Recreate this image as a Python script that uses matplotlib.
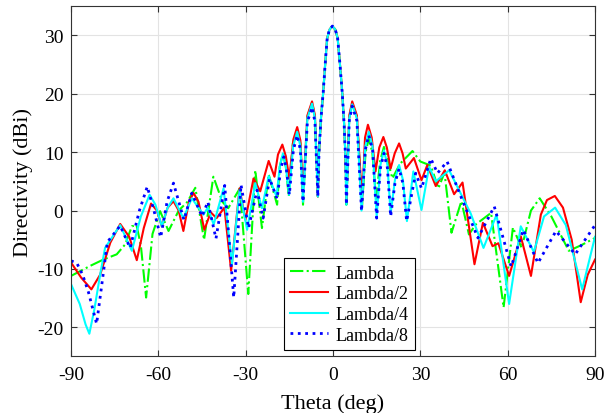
import matplotlib
matplotlib.use("Agg")
import matplotlib.pyplot as plt

plt.rcParams['font.family'] = ['Liberation Serif', 'DejaVu Serif']
plt.rcParams['axes.unicode_minus'] = False

# directivity cuts (theta in deg, value in dBi)
main_t = [-4.8, -4.1, -3.4, -2.7, -2.0, -1.2, -0.2, 0.8, 1.6, 2.4, 3.2, 3.8, 4.3]
main_d = [10, 16, 20, 25, 29.5, 31.0, 31.6, 31.0, 29.5, 25, 20, 15, 9]

lam_t = [-90, -83.5, -78.9, -74.3, -71.4, -69.1, -67.5, -66, -64.2, -62, -59.4, -56.5, -53, -50,
         -47.3, -44.3, -41.1, -38, -36, -32, -29.1, -26.7, -24.4, -22.1, -19.2, -18.3, -17.2,
         -16.2, -15.2, -13.8, -12.3, -11.2, -10.3, -8.8, -7.2, -6.2, -5.2] + main_t + [4.6, 5.6,
         6.6, 8.2, 10, 11.2, 12.3, 13.5, 14.8, 16.2, 17.5, 18.8, 20.4, 23, 27.3,
         30, 33.6, 36.2, 38.3, 40.7, 44.1, 46.7, 49, 54.3, 58.6, 61.8, 64.8, 68, 71, 75, 81, 85, 90]
lam_d = [-11.2, -9.5, -8.4, -7.5, -5.8, -2.7, -2.5, -6, -14.9, -4, -0.1, -3.5, 0, 1.5,
         3.9, -5.0, 5.8, 1.5, 0.4, 3.8, -14.3, 6.9, -3.0, 6.2, 1.0, 7.5, 9.8,
         7.5, 2.4, 11.5, 13.8, 11.5, 1.0, 16.0, 18.5, 16.0, 2.4] + main_d + [1.0, 16.0,
         18.4, 16.0, 1, 10, 12.3, 10, 2, 8.5, 10.9, 8.5, 5.5, 8, 10.2,
         8.4, 7.7, 3.8, 6.5, -3.8, 1.6, -4.1, -2.4, -0.4, -16.6, -2.9, -6.4, 0, 2.1, -1, -6.9, -6, -4.7]

lam2_t = [-90, -86.5, -83, -80, -76.5, -73.1, -70, -67.4, -65, -62.5, -60.5, -58.8, -56.8, -54.8,
          -53, -51.4, -49.5, -47.9, -46.2, -44.2, -42, -40, -37.3, -35, -32.1, -30.1, -27.3, -25,
          -22.1, -20.1, -18.9, -17.4, -16.2, -15, -13.6, -12.3, -11.2, -10.3, -8.8, -7.2, -6.2,
          -5.2] + main_t + [4.6, 5.6, 6.6, 8.2, 10, 11, 12, 13.3, 14.6, 15.9, 17.3, 18.5, 19.8,
          21.2, 22.7, 23.9, 25, 27.8, 30.4, 32.4, 35.3, 38.4, 41.6, 44.5, 48.6, 51.5, 54.8,
          56.8, 60.5, 64.5, 68, 71.4, 73.5, 76.2, 79, 82, 85.1, 87.5, 90]
lam2_d = [-8.9, -11.5, -13.5, -11, -5.5, -2.3, -4.5, -8.5, -3, 1.2, 0, -2.7, 0.5, 1.6,
          0, -3.5, 1.5, 3.0, 1.5, -3.3, -0.3, -1.3, 0.5, -10.3, 3.8, -1.6, 5.5, 3.3,
          8.5, 5.8, 9.6, 11.3, 9.3, 5.5, 12.2, 14.3, 12.0, 2.8, 16.3, 18.7, 16.3,
          2.4] + main_d + [1.6, 16.3, 18.7, 16.3, 1.6, 12.5, 14.7, 12.5, 6.7, 10.8, 12.6, 10.8, 7.2,
          9.8, 11.5, 9.8, 7.2, 9.0, 5.2, 7.8, 4.2, 6.9, 2.8, 4.8, -9.2, -2.1, -6.1,
          -5.6, -11.2, -4.4, -11.2, -0.7, 1.8, 2.5, 0.5, -5, -15.7, -11, -8.4]

lam4_t = [-90, -87, -85, -83.7, -82, -80, -78.3, -73.1, -69.1, -66, -63, -61, -58.8, -56.8,
          -54.8, -51.4, -48.5, -44.5, -43, -41, -37.6, -34.7, -32.1, -29.5, -26.7, -24.4, -22.1,
          -19.4, -18.3, -17.2, -16.2, -15.1, -13.7, -12.3, -11.2, -10.3, -8.8, -7.2, -6.2,
          -5.2] + main_t + [4.6, 5.6, 6.6, 8.2, 9.8, 11.1, 12.3, 13.6, 15, 16.3, 17.5, 18.7,
          19.8, 21.3, 22.7, 24, 25.4, 27.6, 30.4, 33, 35.3, 39.9, 43.6, 47.3, 51.7, 56.2, 60.5,
          64.5, 69, 72.5, 76.3, 80, 85.6, 90]
lam4_d = [-12.6, -16, -19.5, -21.1, -17, -11, -6.4, -2.5, -6.9, -1, 2.7, 1, -2.7, 0.5,
          2.1, -1.3, 2.1, -0.7, 0.5, -2.4, 3.8, -9.2, 3.5, -3.3, 4.7, 0.4, 5.9,
          2.4, 7.5, 9.8, 7.5, 2.7, 11, 13.5, 11, 1.5, 15.8, 18.3, 15.8,
          2.4] + main_d + [1.0, 15.8, 18.2, 15.8, 0, 11, 13.5, 11, -1, 7.8, 10.3, 7.8,
          -0.5, 5.3, 7.8, 5.3, -1.8, 6.7, 0.1, 7.5, 5.0, 6.9, 3.2, -0.5, -6.4, -0.7, -16,
          -2.7, -7.1, -1, 0.5, -2.5, -13.5, -4.5]

lam8_t = [-90, -88, -86, -84, -81.2, -79.5, -77.5, -73.1, -69.7, -66.5, -63.8, -61.5, -59.2,
          -57, -54.8, -51.2, -48.5, -45, -43, -40.2, -37.2, -34.1, -31.6, -29, -26.1, -24,
          -21.8, -19.2, -18, -16.9, -16, -15, -13.6, -12.3, -11.2, -10.3, -8.8, -7.2, -6.2,
          -5.2] + main_t + [4.6, 5.6, 6.6, 8.2, 9.8, 11.1, 12.3, 13.6, 15, 16.3, 17.5, 18.7,
          19.8, 21.3, 22.7, 24, 25.3, 28.4, 30.4, 33.6, 35.9, 39.2, 43.6, 49.8, 55.4, 61.2,
          65.4, 70.4, 76.6, 83.2, 90]
lam8_d = [-8.6, -9, -11, -14, -19.4, -13, -5.4, -2.6, -6.4, 0, 4.1, 0, -4.6,
          1.5, 4.7, -1.6, 3.0, -1.0, 1.5, -4.8, 4.3, -14.9, 4.4, -3, 3.5, -1.3,
          5.5, 2, 7, 9.2, 7, 2.7, 10.4, 12.9, 10.4, 1.5, 15.2, 17.7, 15.2,
          2.4] + main_d + [1.0, 15.4, 17.9, 15.4, -0.1, 10.4, 12.9, 10.4, -1.3, 7.3, 9.8, 7.3,
          -1.0, 4.7, 7.2, 4.7, -1.8, 6.4, 3.8, 8.9, 6.4, 8.4, 2.8, -4.7, 0.7, -9.6,
          -3.3, -9.0, -3.5, -7.5, -2.5]

fig = plt.figure(figsize=(6.1, 4.14), dpi=100)
ax = fig.add_axes([0.1164, 0.1365, 0.859, 0.846])

ax.plot(lam_t, lam_d, color='#00ff00', linestyle='-.', lw=1.5, label='Lambda')
ax.plot(lam2_t, lam2_d, color='#ff0000', linestyle='-', lw=1.5, label='Lambda/2')
ax.plot(lam4_t, lam4_d, color='#00ffff', linestyle='-', lw=1.5, label='Lambda/4')
ax.plot(lam8_t, lam8_d, color='#0000ff', linestyle=':', lw=2, label='Lambda/8')

ax.set_xlim(-90, 90)
ax.set_ylim(-25, 35)
ax.set_xticks([-90, -60, -30, 0, 30, 60, 90])
ax.set_yticks([-20, -10, 0, 10, 20, 30])
ax.grid(True, color='#e3e3e3', lw=0.8)
ax.set_axisbelow(True)
ax.tick_params(direction='in', top=True, right=True, labelsize=14, length=4, color='#333333')
ax.tick_params(axis='x', pad=7)
ax.tick_params(axis='y', pad=5.5)
for s in ax.spines.values():
    s.set_color('#333333')
    s.set_linewidth(0.8)

ax.set_xlabel('Theta (deg)', fontsize=16)
ax.set_ylabel('Directivity (dBi)', fontsize=16)
ax.xaxis.set_label_coords(0.5, -0.105)
ax.yaxis.set_label_coords(-0.073, 0.5)

leg = ax.legend(loc='lower center', bbox_to_anchor=(0.531, 0.019), fontsize=13,
                fancybox=False, edgecolor='black', framealpha=1, handlelength=2.1,
                borderpad=0.35, labelspacing=0.2, handletextpad=0.4, borderaxespad=0)
leg.get_frame().set_linewidth(0.8)

fig.savefig('out.png', dpi=100)
